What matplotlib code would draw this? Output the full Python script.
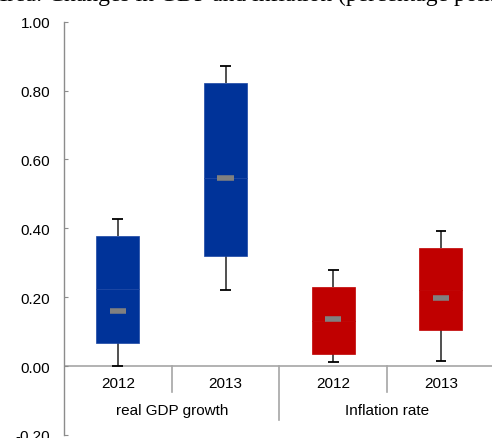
import matplotlib
matplotlib.use("Agg")
import matplotlib.pyplot as plt

plt.rcParams['font.family'] = ['Liberation Sans', 'DejaVu Sans']

years = ["2012", "2013", "2012", "2013"]
groups = ["real GDP growth", "Inflation rate"]
whisker_low = [0.000, 0.220, 0.013, 0.016]
box_low = [0.068, 0.319, 0.035, 0.106]
box_split = [0.224, 0.546, 0.130, 0.220]
box_high = [0.378, 0.822, 0.230, 0.343]
whisker_high = [0.428, 0.872, 0.280, 0.393]
medians = [0.161, 0.546, 0.138, 0.198]
fill_colors = ["#003399", "#003399", "#C00000", "#C00000"]
edge_colors = ["#1a45a3", "#1a45a3", "#C00000", "#C00000"]

fig = plt.figure(figsize=(4.92, 4.39), dpi=100)
ax = fig.add_axes([64 / 492, 3 / 439, (494.75 - 64) / 492, (436 - 22.7) / 439])
ax.set_xlim(-0.5, 3.5)
ax.set_ylim(-0.2, 1.0)

x = list(range(len(years)))
w = 0.4
# boxes (stacked two parts)
ax.bar(x, [s - l for s, l in zip(box_split, box_low)], bottom=box_low, width=w,
       color=fill_colors, edgecolor=edge_colors, linewidth=0.5, zorder=3)
ax.bar(x, [h - s for h, s in zip(box_high, box_split)], bottom=box_split, width=w,
       color=fill_colors, edgecolor=edge_colors, linewidth=0.5, zorder=3)
# whiskers
ax.vlines(x, box_high, whisker_high, color="#505050", linewidth=1.4, zorder=2)
ax.vlines(x, whisker_low, box_low, color="#505050", linewidth=1.4, zorder=2)
ax.hlines(whisker_high, [i - 0.05 for i in x], [i + 0.05 for i in x], color="black", linewidth=1.3, zorder=4)
ax.hlines(whisker_low, [i - 0.05 for i in x], [i + 0.05 for i in x], color="black", linewidth=1.3, zorder=4)
# median markers
ax.hlines(medians, [i - 0.075 for i in x], [i + 0.075 for i in x], color="#808080", linewidth=4, zorder=5)

# axes styling
for s in ["top", "right", "bottom"]:
    ax.spines[s].set_visible(False)
ax.spines["left"].set_color("#8c8c8c")
ax.spines["left"].set_linewidth(1.0)
ax.axhline(0, color="#a6a6a6", linewidth=1.2, zorder=1)
ticks = [-0.2, 0.0, 0.2, 0.4, 0.6, 0.8, 1.0]
ax.set_yticks(ticks)
ax.set_yticklabels([f"{v:.2f}" for v in ticks])
ax.tick_params(axis="y", direction="in", length=3, color="#8c8c8c", pad=10, labelsize=11)
ax.set_xticks([])

# category axis labels
for i, yl in enumerate(years):
    ax.text(i, -0.048, yl, ha="center", va="center", fontsize=11, color="black")
for g, gi in enumerate(groups):
    ax.text(0.5 + 2 * g, -0.128, gi, ha="center", va="center", fontsize=11, color="black")
# separators
for xs in [0.5, 2.5]:
    ax.plot([xs, xs], [0, -0.075], color="#a6a6a6", linewidth=1.2, clip_on=False)
ax.plot([1.5, 1.5], [0, -0.157], color="#a6a6a6", linewidth=1.2, clip_on=False)

# clipped title at top
fig.text(-0.02, 1.011, "Area: Changes in GDP and inflation (percentage points)",
         fontsize=17, family="Liberation Serif", ha="left", va="center")

fig.savefig("out.png", dpi=100)
